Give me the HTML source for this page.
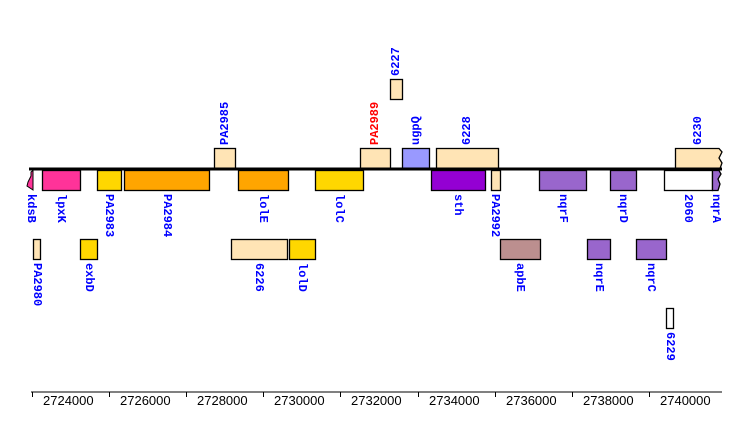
<!DOCTYPE html>
<html><head><meta charset="utf-8"><style>
html,body{margin:0;padding:0;background:#fff;}
svg{display:block;}
.l{font-family:"Liberation Mono",monospace;font-weight:bold;font-size:12px;fill:#0000ff;}
.r{fill:#ff0000;}
rect{stroke:#000;stroke-width:1.3;}
.ax{font-family:"Liberation Sans",sans-serif;font-size:13px;fill:#000;}
</style></head><body>
<svg width="750" height="437" viewBox="0 0 750 437" xmlns="http://www.w3.org/2000/svg">
<rect x="214.5" y="148.5" width="21" height="20" fill="#ffe4b5"/>
<rect x="360.5" y="148.5" width="30" height="20" fill="#ffe4b5"/>
<rect x="390.5" y="79.5" width="12" height="20" fill="#ffe4b5"/>
<rect x="402.5" y="148.5" width="27" height="20" fill="#9999ff"/>
<rect x="436.5" y="148.5" width="62" height="20" fill="#ffe4b5"/>
<polygon points="675.5,148.5 719,148.5 722,152 719,158 722,163 720,168.5 675.5,168.5" fill="#ffe4b5" stroke="#000" stroke-width="1.3"/>
<line x1="29" y1="169" x2="722" y2="169" stroke="#000" stroke-width="3"/>
<polygon points="33,170.5 33,190 27,186 28,182 31,176 31,172" fill="#ff3399" stroke="#000" stroke-width="1"/>
<rect x="42.5" y="170.5" width="38" height="20" fill="#ff3399"/>
<rect x="97.5" y="170.5" width="24" height="20" fill="#ffd700"/>
<rect x="124.5" y="170.5" width="85" height="20" fill="#ffa500"/>
<rect x="238.5" y="170.5" width="50" height="20" fill="#ffa500"/>
<rect x="315.5" y="170.5" width="48" height="20" fill="#ffd700"/>
<rect x="431.5" y="170.5" width="54" height="20" fill="#9400d3"/>
<rect x="491.5" y="170.5" width="9" height="20" fill="#ffe4b5"/>
<rect x="539.5" y="170.5" width="47" height="20" fill="#9966cc"/>
<rect x="610.5" y="170.5" width="26" height="20" fill="#9966cc"/>
<rect x="664.5" y="170.5" width="48" height="20" fill="#ffffff"/>
<polygon points="712.5,170.5 719,170.5 721,174 718,179 720,184 718,190.5 712.5,190.5" fill="#9966cc" stroke="#000" stroke-width="1.3"/>
<rect x="33.5" y="239.5" width="7" height="20" fill="#ffe4b5"/>
<rect x="80.5" y="239.5" width="17" height="20" fill="#ffd700"/>
<rect x="231.5" y="239.5" width="56" height="20" fill="#ffe4b5"/>
<rect x="289.5" y="239.5" width="26" height="20" fill="#ffd700"/>
<rect x="500.5" y="239.5" width="40" height="20" fill="#bc8f8f"/>
<rect x="587.5" y="239.5" width="23" height="20" fill="#9966cc"/>
<rect x="636.5" y="239.5" width="30" height="20" fill="#9966cc"/>
<rect x="666.5" y="308.5" width="7" height="20" fill="#ffffff"/>
<g class="l" dominant-baseline="middle">
<text transform="translate(225,145) rotate(-90)">PA2985</text>
<text class="l r" transform="translate(375,145) rotate(-90)">PA2989</text>
<text transform="translate(396,76) rotate(-90)">6227</text>
<text transform="translate(416,145) rotate(-90)">ugpQ</text>
<text transform="translate(467,145) rotate(-90)">6228</text>
<text transform="translate(698,145) rotate(-90)">6230</text>
<text transform="translate(31,194) rotate(90)">kdsB</text>
<text transform="translate(61,194) rotate(90)">lpxK</text>
<text transform="translate(109,194) rotate(90)">PA2983</text>
<text transform="translate(167,194) rotate(90)">PA2984</text>
<text transform="translate(263,194) rotate(90)">lolE</text>
<text transform="translate(339,194) rotate(90)">lolC</text>
<text transform="translate(458,194) rotate(90)">sth</text>
<text transform="translate(495,194) rotate(90)">PA2992</text>
<text transform="translate(563,194) rotate(90)">nqrF</text>
<text transform="translate(623,194) rotate(90)">nqrD</text>
<text transform="translate(688,194) rotate(90)">2060</text>
<text transform="translate(716,194) rotate(90)">nqrA</text>
<text transform="translate(37,263) rotate(90)">PA2980</text>
<text transform="translate(89,263) rotate(90)">exbD</text>
<text transform="translate(259,263) rotate(90)">6226</text>
<text transform="translate(302,263) rotate(90)">lolD</text>
<text transform="translate(520,263) rotate(90)">apbE</text>
<text transform="translate(599,263) rotate(90)">nqrE</text>
<text transform="translate(651,263) rotate(90)">nqrC</text>
<text transform="translate(670,332) rotate(90)">6229</text>
</g>
<line x1="31" y1="392" x2="722" y2="392" stroke="#000" stroke-width="1"/>
<g stroke="#000" stroke-width="1">
<line x1="32.5" y1="392" x2="32.5" y2="397"/><line x1="109.5" y1="392" x2="109.5" y2="397"/>
<line x1="186.5" y1="392" x2="186.5" y2="397"/><line x1="263.5" y1="392" x2="263.5" y2="397"/>
<line x1="340.5" y1="392" x2="340.5" y2="397"/><line x1="418.5" y1="392" x2="418.5" y2="397"/>
<line x1="495.5" y1="392" x2="495.5" y2="397"/><line x1="572.5" y1="392" x2="572.5" y2="397"/>
<line x1="649.5" y1="392" x2="649.5" y2="397"/>
</g>
<g class="ax">
<text x="43" y="405">2724000</text><text x="120" y="405">2726000</text>
<text x="197" y="405">2728000</text><text x="274" y="405">2730000</text>
<text x="351" y="405">2732000</text><text x="429" y="405">2734000</text>
<text x="506" y="405">2736000</text><text x="583" y="405">2738000</text>
<text x="660" y="405">2740000</text>
</g>
</svg>
</body></html>
